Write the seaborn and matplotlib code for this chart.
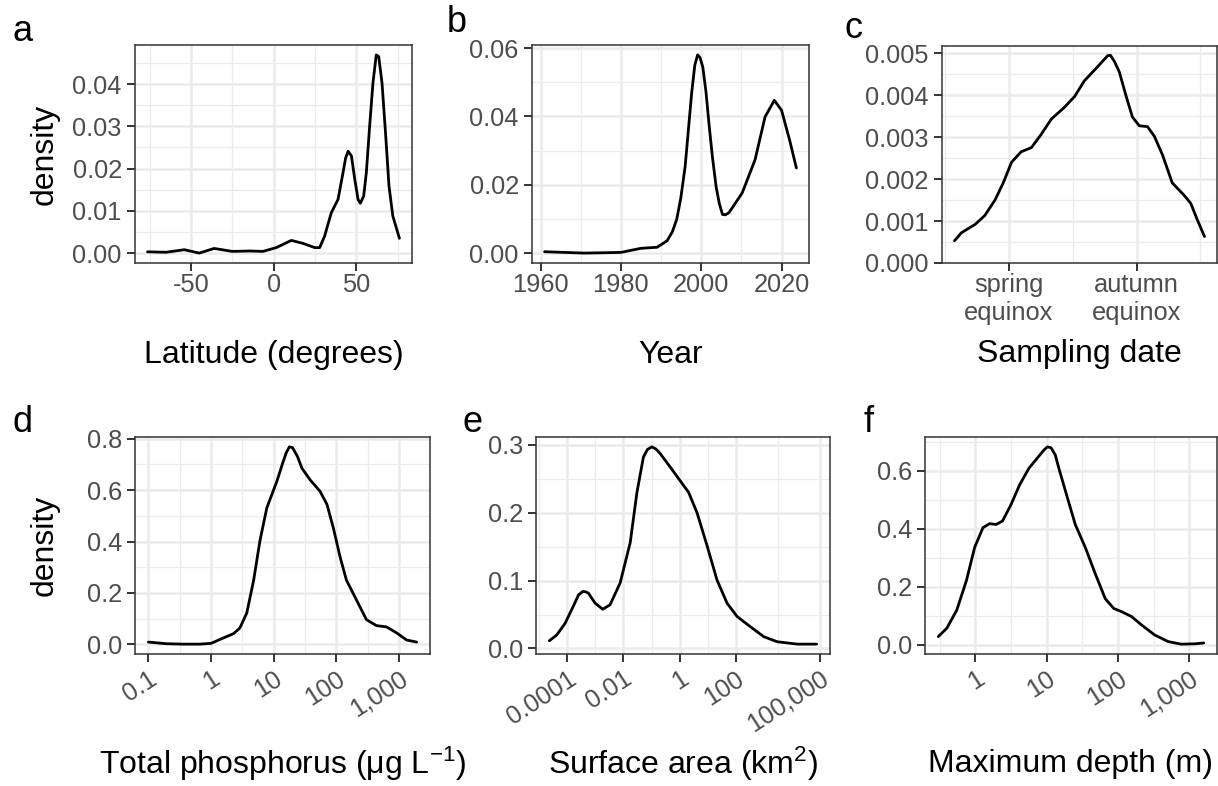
import numpy as np
import matplotlib
matplotlib.use("Agg")
import matplotlib.pyplot as plt
from matplotlib.ticker import FixedLocator, NullFormatter
import seaborn as sns

# --- curves (density estimates) ---
# a: latitude (degrees)
lat_x = [-76.2, -65, -54, -45, -36, -25, -14.5, -6.5, 1.6, 10.7, 17.7, 24.8, 27.8,
         30.8, 32.8, 34.9, 38.9, 41.9, 43.5, 45, 47, 49, 51, 52.4, 54.4, 56, 58, 60,
         62, 63.5, 65.5, 67.6, 69.7, 72, 76]
lat_y = [0.0003, 0.0002, 0.0008, 0.0, 0.0011, 0.0004, 0.0005, 0.0004, 0.0013, 0.003,
         0.0023, 0.0013, 0.0013, 0.004, 0.0068, 0.0096, 0.0127, 0.019, 0.0225, 0.0241,
         0.023, 0.0175, 0.0127, 0.0118, 0.0135, 0.019, 0.030, 0.0402, 0.0469, 0.0465,
         0.0402, 0.0285, 0.0159, 0.0088, 0.0035]

# b: year
yr_x = [1961, 1971, 1980, 1985, 1989, 1991.5, 1992.8, 1993.9, 1994.9, 1996, 1997.6,
        1998.4, 1999.1, 1999.7, 2000.4, 2001.2, 2002, 2002.8, 2003.7, 2004.5, 2005.3,
        2006, 2006.9, 2010.2, 2013.4, 2015.9, 2018.2, 2020, 2022, 2023.7]
yr_y = [0.0004, 0.0, 0.0002, 0.0014, 0.0017, 0.0036, 0.0062, 0.0099, 0.016, 0.0254,
        0.0466, 0.055, 0.058, 0.0572, 0.0544, 0.047, 0.037, 0.028, 0.0195, 0.0145,
        0.0113, 0.0112, 0.0118, 0.0176, 0.0273, 0.0399, 0.0447, 0.0418, 0.0331, 0.0249]

# c: sampling day of year
day_x = [0, 10, 30, 44, 59, 71, 83, 97, 112, 126, 141, 160, 175, 189, 208, 223, 227,
         233, 240, 250, 259, 269, 281, 291, 303, 317, 334, 344, 353, 364]
day_y = [0.00053, 0.00072, 0.00092, 0.00113, 0.0015, 0.00191, 0.0024, 0.00265, 0.00275,
         0.00306, 0.00343, 0.00371, 0.00397, 0.00434, 0.00467, 0.00494, 0.00495,
         0.0048, 0.00455, 0.00397, 0.00348, 0.00327, 0.00325, 0.00302, 0.00257,
         0.00191, 0.00162, 0.00142, 0.00105, 0.00063]

# d: total phosphorus, log10(ug/L)
tp_log = [-1, -0.71, -0.44, -0.18, 0, 0.14, 0.36, 0.46, 0.57, 0.68, 0.78, 0.89, 1.05,
          1.15, 1.2, 1.25, 1.3, 1.38, 1.45, 1.58, 1.74, 1.85, 1.95, 2.06, 2.16, 2.32,
          2.48, 2.64, 2.80, 2.96, 3.12, 3.28]
tp_y = [0.009, 0.0026, 0.001, 0.001, 0.004, 0.019, 0.042, 0.064, 0.122, 0.25, 0.403,
        0.531, 0.634, 0.71, 0.745, 0.768, 0.765, 0.73, 0.685, 0.64, 0.595, 0.544, 0.454,
        0.339, 0.25, 0.173, 0.096, 0.073, 0.068, 0.045, 0.017, 0.009]

# e: surface area, log10(km2)
sa_log = [-4.64, -4.38, -4.08, -3.79, -3.6, -3.45, -3.35, -3.25, -3.01, -2.74, -2.48,
          -2.12, -1.76, -1.52, -1.29, -1.15, -0.99, -0.85, -0.69, -0.33, 0.02, 0.32,
          0.62, 0.98, 1.33, 1.69, 2.05, 2.52, 3.0, 3.48, 4.19, 4.88]
sa_y = [0.0114, 0.0198, 0.037, 0.062, 0.079, 0.084, 0.0835, 0.0816, 0.0667, 0.0578,
        0.0643, 0.0964, 0.156, 0.23, 0.282, 0.293, 0.297, 0.294, 0.287, 0.267, 0.247,
        0.23, 0.2, 0.151, 0.101, 0.0667, 0.047, 0.032, 0.0173, 0.0099, 0.0064, 0.0064]

# f: maximum depth, log10(m)
md_log = [-0.52, -0.40, -0.26, -0.125, -0.01, 0.106, 0.2, 0.29, 0.38, 0.5, 0.62, 0.75,
          0.9, 0.96, 1.01, 1.06, 1.12, 1.17, 1.29, 1.40, 1.54, 1.68, 1.82, 1.94, 2.05,
          2.19, 2.33, 2.51, 2.70, 2.88, 3.07, 3.20]
md_y = [0.028, 0.057, 0.12, 0.222, 0.336, 0.404, 0.418, 0.415, 0.427, 0.484, 0.552,
        0.609, 0.654, 0.672, 0.683, 0.68, 0.655, 0.609, 0.507, 0.415, 0.336, 0.245,
        0.159, 0.125, 0.114, 0.097, 0.068, 0.034, 0.011, 0.002, 0.003, 0.006]

# --- ticks and labels ---
lat_ticks = [-50, 0, 50]
lat_labels = ["-50", "0", "50"]
yr_ticks = [1960, 1980, 2000, 2020]
yr_labels = ["1960", "1980", "2000", "2020"]
day_ticks = [79, 265]
day_labels = ["spring\nequinox", "autumn\nequinox"]
tp_ticks = [0.1, 1, 10, 100, 1000]
tp_labels = ["0.1", "1", "10", "100", "1,000"]
sa_ticks = [0.0001, 0.01, 1, 100, 100000]
sa_labels = ["0.0001", "0.01", "1", "100", "100,000"]
md_ticks = [1, 10, 100, 1000]
md_labels = ["1", "10", "100", "1,000"]

lat_yticks = [0, 0.01, 0.02, 0.03, 0.04]
lat_ylabels = ["0.00", "0.01", "0.02", "0.03", "0.04"]
yr_yticks = [0, 0.02, 0.04, 0.06]
yr_ylabels = ["0.00", "0.02", "0.04", "0.06"]
day_yticks = [0, 0.001, 0.002, 0.003, 0.004, 0.005]
day_ylabels = ["0.000", "0.001", "0.002", "0.003", "0.004", "0.005"]
tp_yticks = [0, 0.2, 0.4, 0.6, 0.8]
tp_ylabels = ["0.0", "0.2", "0.4", "0.6", "0.8"]
sa_yticks = [0, 0.1, 0.2, 0.3]
sa_ylabels = ["0.0", "0.1", "0.2", "0.3"]
md_yticks = [0, 0.2, 0.4, 0.6]
md_ylabels = ["0.0", "0.2", "0.4", "0.6"]

sns.set_style("white")
plt.rcParams["font.family"] = ["Liberation Sans", "DejaVu Sans"]
plt.rcParams["mathtext.default"] = "regular"

W, H = 1218, 786
fig = plt.figure(figsize=(W / 100, H / 100), dpi=100)


def add_panel(left, right, top, bottom):
    return fig.add_axes([left / W, 1 - bottom / H, (right - left) / W, (bottom - top) / H])


def minors(major, lo, hi):
    m = np.asarray(major, float)
    mm = np.concatenate([[m[0] - (m[1] - m[0]) / 2], (m[:-1] + m[1:]) / 2,
                         [m[-1] + (m[-1] - m[-2]) / 2]])
    return mm[(mm > lo) & (mm < hi)]


def panel(ax, x, y, xticks, xlabels, yticks, ylabels, title, log=False, rotate=False):
    xv = np.power(10.0, x) if log else np.asarray(x, float)
    sns.lineplot(x=xv, y=y, ax=ax, color="black", linewidth=2.0,
                 solid_joinstyle="round", solid_capstyle="round")

    # ggplot-like 5% expansion
    lo, hi = min(x), max(x)
    xlo, xhi = lo - 0.05 * (hi - lo), hi + 0.05 * (hi - lo)
    ylo, yhi = min(y), max(y)
    ax.set_ylim(ylo - 0.05 * (yhi - ylo), yhi + 0.05 * (yhi - ylo))
    if log:
        ax.set_xscale("log")
        ax.set_xlim(10 ** xlo, 10 ** xhi)
        mx = 10 ** minors(np.log10(xticks), xlo, xhi)
    else:
        ax.set_xlim(xlo, xhi)
        mx = minors(xticks, xlo, xhi)
    ax.set_xticks(xticks, xlabels)
    ax.xaxis.set_minor_locator(FixedLocator(mx))
    ax.xaxis.set_minor_formatter(NullFormatter())
    ax.set_yticks(yticks, ylabels)
    y0, y1 = ax.get_ylim()
    ax.yaxis.set_minor_locator(FixedLocator(minors(yticks, y0, y1)))
    ax.yaxis.set_minor_formatter(NullFormatter())

    ax.grid(which="major", color="#EBEBEB", linewidth=1.8)
    ax.grid(which="minor", color="#EBEBEB", linewidth=0.9)
    ax.set_axisbelow(True)
    for s in ax.spines.values():
        s.set_color("#333333")
        s.set_linewidth(1.1)
    ax.tick_params(which="major", bottom=True, left=True, length=6, width=1.4,
                   color="#333333", labelsize=18.3, labelcolor="#4D4D4D")
    ax.tick_params(axis="y", which="major", pad=3.5)
    ax.tick_params(axis="x", which="major", pad=1.5)
    ax.tick_params(which="minor", bottom=False, left=False, length=0)
    if rotate:
        ax.tick_params(axis="x", which="major", pad=3)
        for lbl in ax.get_xticklabels():
            lbl.set(rotation=33, ha="right", va="top", rotation_mode="anchor")
    ax.set_xlabel(title, fontsize=23, color="black")
    ax.set_ylabel("")


ax_a = add_panel(135, 412, 45, 263)
ax_b = add_panel(532, 809, 45, 263)
ax_c = add_panel(942, 1217, 46, 263)
ax_d = add_panel(135, 430, 437, 654)
ax_e = add_panel(536, 830, 437, 654)
ax_f = add_panel(925, 1217, 437, 654)

panel(ax_a, lat_x, lat_y, lat_ticks, lat_labels, lat_yticks, lat_ylabels, "Latitude (degrees)")
panel(ax_b, yr_x, yr_y, yr_ticks, yr_labels, yr_yticks, yr_ylabels, "Year")
panel(ax_c, day_x, day_y, day_ticks, day_labels, day_yticks, day_ylabels, "Sampling date")
panel(ax_d, tp_log, tp_y, tp_ticks, tp_labels, tp_yticks, tp_ylabels,
      r"Total phosphorus (μg L$^{-1}$)", log=True, rotate=True)
panel(ax_e, sa_log, sa_y, sa_ticks, sa_labels, sa_yticks, sa_ylabels,
      r"Surface area (km$^{2}$)", log=True, rotate=True)
panel(ax_f, md_log, md_y, md_ticks, md_labels, md_yticks, md_ylabels,
      "Maximum depth (m)", log=True, rotate=True)

for ax in (ax_a, ax_b, ax_c):
    ax.xaxis.set_label_coords(0.5, -0.42)
    ax.xaxis.label.set_va("center")
for ax in (ax_d, ax_e, ax_f):
    ax.xaxis.set_label_coords(0.5, -0.507)
    ax.xaxis.label.set_va("center")

for ax, xc in ((ax_a, -0.325), (ax_d, -0.305)):
    ax.set_ylabel("density", fontsize=23, color="black")
    ax.yaxis.set_label_coords(xc, 0.5)
    ax.yaxis.label.set_va("center")

# panel tags
for tag, px, py in [("a", 12, 41), ("b", 447, 32), ("c", 844, 38),
                    ("d", 12, 432), ("e", 462, 432), ("f", 864, 432)]:
    fig.text(px / W, 1 - py / H, tag, fontsize=26, color="black",
             ha="left", va="baseline")

fig.savefig("out.png", dpi=100)
